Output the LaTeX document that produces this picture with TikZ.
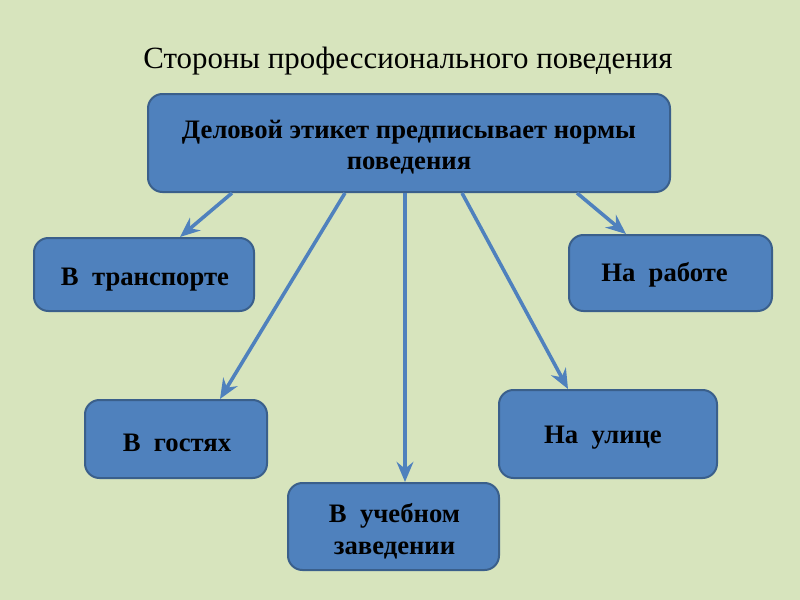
\documentclass[tikz,border=0pt]{standalone}
\usepackage{fontspec}
\setmainfont{Liberation Serif}
\usetikzlibrary{arrows.meta,calc}
\definecolor{bg}{HTML}{D7E4BD}
\definecolor{boxfill}{HTML}{4F81BD}
\definecolor{boxline}{HTML}{3A5F8B}
\tikzset{
  box/.style={draw=boxline, line width=1.8pt, fill=boxfill, rounded corners=13pt, inner sep=0pt},
  boxtext/.style={align=center, font=\fontsize{24}{28.5}\selectfont\bfseries, text=black, inner sep=0pt},
  arr/.style={draw=boxfill, line width=3.2pt, -{Stealth[length=18pt,width=15pt,inset=6pt]}}
}
\begin{document}
\begin{tikzpicture}[x=0.9pt,y=-0.9pt]
\fill[bg] (0,0) rectangle (800,600);
\useasboundingbox (0,0) rectangle (800,600);
\node (title) at (408,61) {\fontsize{27.8}{32}\selectfont Стороны профессионального поведения};
\node[box, minimum width=522*0.9pt, minimum height=98*0.9pt] (main) at (409,143) {};
\node[box, minimum width=220*0.9pt, minimum height=73*0.9pt] (tr) at (144,274.5) {};
\node[box, minimum width=203*0.9pt, minimum height=76*0.9pt] (rab) at (670.5,273) {};
\node[box, minimum width=182*0.9pt, minimum height=78*0.9pt] (gost) at (176,439) {};
\node[box, minimum width=218*0.9pt, minimum height=88*0.9pt] (ul) at (608,434) {};
\node[box, minimum width=211*0.9pt, minimum height=87*0.9pt] (uch) at (393.5,526.5) {};
\node[boxtext] (maint) at ($(main)+(0,4)$) {Деловой этикет предписывает нормы\\поведения};
\node[boxtext] (trt) at ($(tr)+(1,5)$) {В~ транспорте};
\node[boxtext] (rabt) at ($(rab)+(-6,2)$) {На~ работе};
\node[boxtext] (gostt) at ($(gost)+(1,4)$) {В~ гостях};
\node[boxtext] (ult) at ($(ul)+(-5,4)$) {На~ улице};
\node[boxtext] (ucht) at ($(uch)+(1,5)$) {В~ учебном\\заведении};
\draw[arr] ($(main.south)+(-177,0)$) -- ($(tr.north)+(36,0)$);
\draw[arr] ($(main.south)+(-64,0)$) -- ($(gost.north)+(44,0)$);
\draw[arr] ($(main.south)+(-4,0)$) -- ($(uch.north)+(11.5,0)$);
\draw[arr] ($(main.south)+(53,0)$) -- ($(ul.north)+(-40,0)$);
\draw[arr] ($(main.south)+(168,0)$) -- ($(rab.north)+(-44.5,0)$);
\end{tikzpicture}
\end{document}
